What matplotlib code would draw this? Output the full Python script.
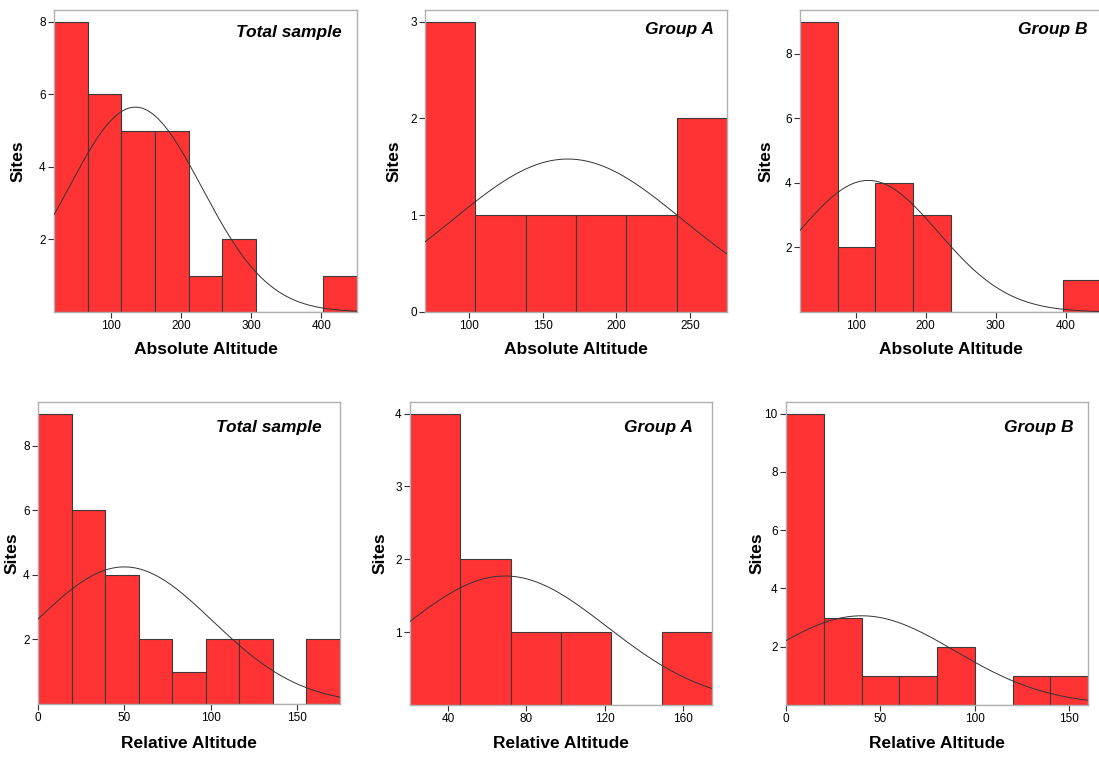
import numpy as np
import matplotlib
matplotlib.use('Agg')
import matplotlib.pyplot as plt

plt.rcParams['font.family'] = ['Liberation Sans', 'DejaVu Sans']

#histogram counts
abs_total_counts = [8, 6, 5, 5, 1, 2, 0, 0, 1]
abs_a_counts = [3, 1, 1, 1, 1, 2]
abs_b_counts = [9, 2, 4, 3, 0, 0, 0, 1]
rel_total_counts = [9, 6, 4, 2, 1, 2, 2, 0, 2]
rel_a_counts = [4, 2, 1, 1, 0, 1]
rel_b_counts = [10, 3, 1, 1, 2, 0, 1, 1]

#first bin edge and bin width of each histogram
abs_total_bins = (19, 48)
abs_a_bins = (70, 34.2)
abs_b_bins = (20.5, 53.7)
rel_total_bins = (0, 19.44)
rel_a_bins = (20.3, 25.8)
rel_b_bins = (0, 20)

#mean and standard deviation of the fitted normal curves
abs_total_norm = (135, 95)
abs_a_norm = (167, 77.7)
abs_b_norm = (118, 99.8)
rel_total_norm = (50, 51.1)
rel_a_norm = (69, 52.3)
rel_b_norm = (40, 49.5)

#tick labels
abs_total_xticks = [100, 200, 300, 400]
abs_a_xticks = [100, 150, 200, 250]
abs_b_xticks = [100, 200, 300, 400]
rel_total_xticks = [0, 50, 100, 150]
rel_a_xticks = [40, 80, 120, 160]
rel_b_xticks = [0, 50, 100, 150]

abs_total_yticks = [2, 4, 6, 8]
abs_a_yticks = [0, 1, 2, 3]
abs_b_yticks = [2, 4, 6, 8]
rel_total_yticks = [2, 4, 6, 8]
rel_a_yticks = [1, 2, 3, 4]
rel_b_yticks = [2, 4, 6, 8, 10]

W, H = 1099, 758
fig = plt.figure(figsize=(W / 100, H / 100), dpi=100)

def make_axes(box):
    left, top, right, bottom = box
    return fig.add_axes([left / W, 1 - bottom / H, (right - left) / W, (bottom - top) / H])

def draw(box, counts, bins, norm, xticks, yticks, title, xlabel, title_pos, ylabel_cx, xlabel_cy):
    ax = make_axes(box)
    left, top, right, bottom = box
    start, width = bins
    n = len(counts)
    edges = start + width * np.arange(n + 1)
    ax.bar(edges[:-1], counts, width=width, align='edge', color='#ff3333',
           edgecolor='#3a3a3a', linewidth=0.8, zorder=2)
    mean, sd = norm
    x = np.linspace(edges[0], edges[-1], 300)
    total = sum(counts)
    y = total * width / (sd * np.sqrt(2 * np.pi)) * np.exp(-0.5 * ((x - mean) / sd) ** 2)
    ax.plot(x, y, color='#333333', linewidth=0.7, zorder=3)
    ax.set_xlim(edges[0], edges[-1])
    ax.set_ylim(0, max(counts) * 1.04)
    ax.set_xticks(xticks)
    ax.set_yticks(yticks)
    ax.tick_params(axis='both', labelsize=8.5, length=4, width=0.8, color='#333333', pad=2)
    for s in ax.spines.values():
        s.set_color('#b0b0b0')
        s.set_linewidth(1.0)
    ax.text(title_pos[0], title_pos[1], title, transform=ax.transAxes, ha='right', va='center',
            fontsize=12.5, fontweight='bold', fontstyle='italic')
    ax.set_xlabel(xlabel, fontsize=12.5, fontweight='bold')
    ax.set_ylabel('Sites', fontsize=12.5, fontweight='bold')
    ax.xaxis.label.set(va='center', ha='center')
    ax.yaxis.label.set(rotation_mode='anchor', va='center', ha='center')
    ax.xaxis.set_label_coords(0.5, (bottom - xlabel_cy) / (bottom - top))
    ax.yaxis.set_label_coords((ylabel_cx - left) / (right - left), 0.5)
    return ax

draw((54, 10, 357, 312), abs_total_counts, abs_total_bins, abs_total_norm, abs_total_xticks,
     abs_total_yticks, 'Total sample', 'Absolute Altitude', (0.95, 0.927), 18, 350)
draw((425, 10, 727, 312), abs_a_counts, abs_a_bins, abs_a_norm, abs_a_xticks,
     abs_a_yticks, 'Group A', 'Absolute Altitude', (0.955, 0.934), 394.5, 350)
draw((800, 10, 1101, 312), abs_b_counts, abs_b_bins, abs_b_norm, abs_b_xticks,
     abs_b_yticks, 'Group B', 'Absolute Altitude', (0.956, 0.934), 766, 350)
draw((38, 402, 340, 704), rel_total_counts, rel_total_bins, rel_total_norm, rel_total_xticks,
     rel_total_yticks, 'Total sample', 'Relative Altitude', (0.939, 0.917), 12, 743)
draw((410, 402, 712, 705), rel_a_counts, rel_a_bins, rel_a_norm, rel_a_xticks,
     rel_a_yticks, 'Group A', 'Relative Altitude', (0.937, 0.917), 380, 743)
draw((786, 402, 1088, 705), rel_b_counts, rel_b_bins, rel_b_norm, rel_b_xticks,
     rel_b_yticks, 'Group B', 'Relative Altitude', (0.952, 0.917), 757, 743)

fig.savefig('out.png', dpi=100)
